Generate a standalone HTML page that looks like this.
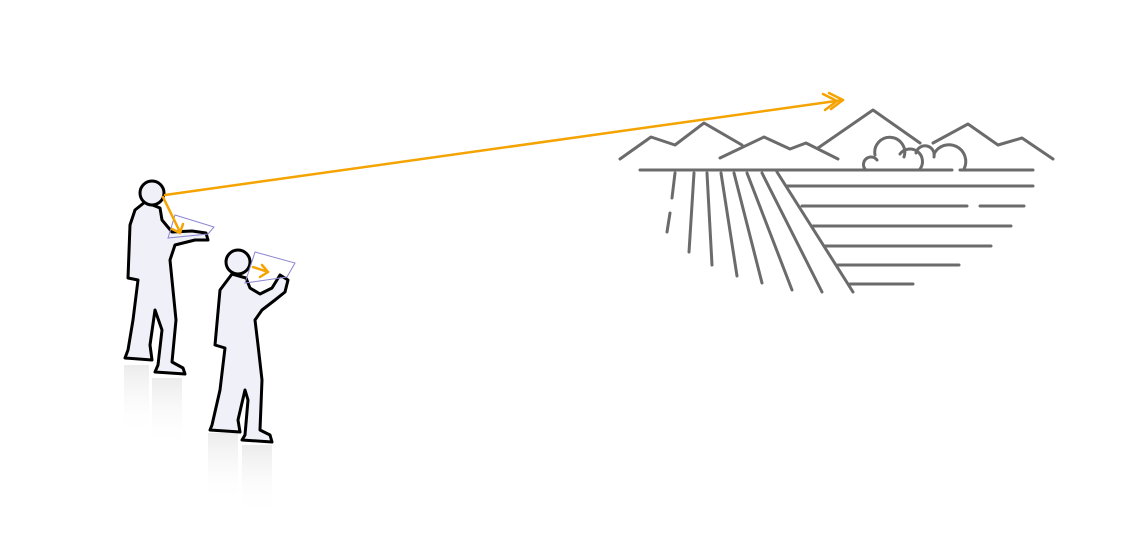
<!DOCTYPE html>
<html><head><style>html,body{margin:0;padding:0;background:#fff;width:1130px;height:559px;overflow:hidden}</style></head>
<body>
<svg width="1130" height="559" viewBox="0 0 1130 559" xmlns="http://www.w3.org/2000/svg">
<defs>
<linearGradient id="sh" x1="0" y1="0" x2="0" y2="1"><stop offset="0" stop-color="#d8d8d8"/><stop offset="1" stop-color="#fff" stop-opacity="0"/></linearGradient>
</defs>
<!-- shadows -->
<rect x="124" y="365" width="25" height="70" fill="url(#sh)" opacity="0.5"/>
<rect x="152" y="378" width="30" height="70" fill="url(#sh)" opacity="0.5"/>
<rect x="208" y="433" width="30" height="70" fill="url(#sh)" opacity="0.5"/>
<rect x="242" y="445" width="30" height="70" fill="url(#sh)" opacity="0.5"/>
<!-- landscape -->
<g fill="none" stroke="#6b6b6b" stroke-width="3" stroke-linecap="round" stroke-linejoin="round">
<polyline points="620,159 651,137 675,145 704,123 742,145"/>
<polyline points="720,158 764,137 790,149 806,143 838,159"/>
<polyline points="818,148 873,110 920,143"/>
<polyline points="933,143 968,124 998,145 1022,138 1053,159"/>
<line x1="640" y1="170" x2="952" y2="170"/>
<line x1="960" y1="170" x2="1033" y2="170"/>
<path d="M865,169 A6,6 0 1 1 877,160"/>
<path d="M875,155 A15,15 0 1 1 904,157"/>
<path d="M900,154 A9,9 0 0 1 920,169"/>
<path d="M916,153 A9,9 0 1 1 934,157"/>
<path d="M934,154 A15,15 0 0 1 964,169"/>
<line x1="787" y1="186" x2="1033" y2="186"/>
<line x1="802" y1="206" x2="967" y2="206"/>
<line x1="980" y1="206" x2="1024" y2="206"/>
<line x1="813" y1="226" x2="1011" y2="226"/>
<line x1="825" y1="246" x2="991" y2="246"/>
<line x1="838" y1="265" x2="959" y2="265"/>
<line x1="850" y1="284" x2="913" y2="284"/>
<line x1="777" y1="172" x2="853" y2="292"/>
<line x1="675" y1="173" x2="672" y2="198"/>
<line x1="670" y1="213" x2="667" y2="232"/>
<line x1="694" y1="173" x2="689" y2="252"/>
<line x1="707" y1="173" x2="712" y2="265"/>
<line x1="721" y1="173" x2="737" y2="276"/>
<line x1="734" y1="173" x2="762" y2="283"/>
<line x1="747" y1="173" x2="792" y2="290"/>
<line x1="762" y1="173" x2="822" y2="292"/>
</g>
<!-- person 1 -->
<g fill="#f0f0f8" stroke="#000" stroke-width="3" stroke-linejoin="round">
<path d="M145,202 L135,210 L130,225 L128,278 L138,280 L133,320 L128,350 L125,358 L152,360 L150,345 L155,310 L162,330 L158,365 L155,372 L185,374 L183,368 L172,362 L176,320 L172,280 L170,260 L175,245 L195,240 L208,240 L206,233 L192,231 L172,232 L162,220 L160,208 Z"/>
<circle cx="152" cy="193" r="12"/>
</g>
<polygon points="175,215 214,227 208,234 168,238" fill="none" stroke="#8c86d0" stroke-width="1"/>
<!-- person 2 -->
<g fill="#f0f0f8" stroke="#000" stroke-width="3" stroke-linejoin="round">
<path d="M232,274 L220,290 L215,345 L225,348 L220,390 L212,425 L210,430 L240,432 L238,420 L245,390 L248,400 L245,435 L242,440 L272,442 L270,435 L260,430 L262,380 L258,345 L255,320 L262,310 L275,300 L285,292 L288,280 L280,275 L272,288 L260,294 L250,288 L246,278 Z"/>
<circle cx="238" cy="262" r="12"/>
</g>
<polygon points="255,252 295,263 287,277 245,283" fill="none" stroke="#8c86d0" stroke-width="1"/>
<!-- orange sight lines -->
<g fill="none" stroke="#f5a300" stroke-width="2.5" stroke-linecap="round" stroke-linejoin="round">
<line x1="165" y1="195" x2="843" y2="100"/>
<polyline points="829,93 843,100 831,109"/>
<polyline points="823,94 837,101 825,110"/>
<line x1="163" y1="197" x2="180" y2="232"/>
<polyline points="172,229 180,233 183,224"/>
<line x1="253" y1="267" x2="268" y2="272"/>
<polyline points="262,265 268,272 260,277"/>
</g>
</svg>
</body></html>
